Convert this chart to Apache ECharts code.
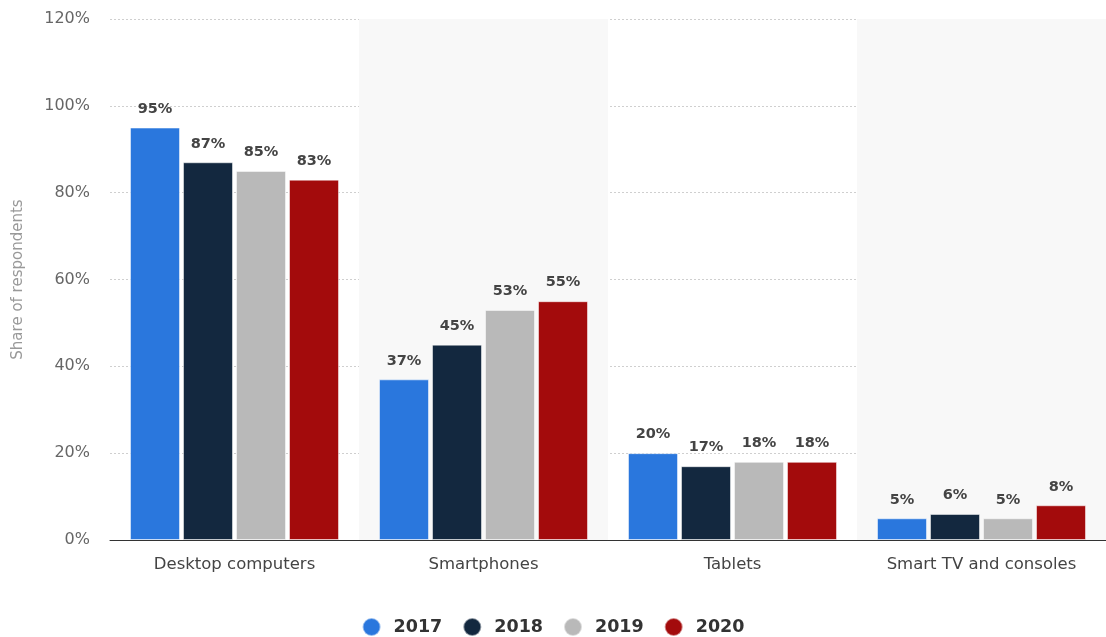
<!DOCTYPE html>
<html><head><meta charset="utf-8">
<script src="https://cdn.jsdelivr.net/npm/echarts@6/dist/echarts.min.js"></script>
<style>html,body{margin:0;padding:0;background:#fff}#c{width:1106px;height:637px}</style>
</head><body><div id="c"></div>
<script>
const categories = ['Desktop computers', 'Smartphones', 'Tablets', 'Smart TV and consoles'];
const years = ['2017', '2018', '2019', '2020'];
const v2017 = [95, 37, 20, 5];
const v2018 = [87, 45, 17, 6];
const v2019 = [85, 53, 18, 5];
const v2020 = [83, 55, 18, 8];
const yTicks = [0, 20, 40, 60, 80, 100, 120];
const colors = ['#2a77dd', '#13283f', '#b9b9b9', '#a30b0c'];
const values = [v2017, v2018, v2019, v2020];
const FONT = 'DejaVu Sans';

const chart = echarts.init(document.getElementById('c'));
chart.setOption({
  animation: false,
  grid: { left: 110, right: 0, top: 19, bottom: 97 },
  legend: {
    top: 612, left: 'center', icon: 'circle', itemWidth: 18, itemHeight: 18, itemGap: 20,
    textStyle: { fontSize: 17.5, color: '#333', fontFamily: FONT, fontWeight: 'bold', padding: [0, 0, 0, 8] },
    data: years
  },
  xAxis: {
    type: 'category', data: categories,
    axisLine: { lineStyle: { color: '#333', width: 1 } },
    axisTick: { show: false },
    axisLabel: { fontSize: 16.5, color: '#444', fontFamily: FONT, margin: 16 },
    splitArea: { show: true, areaStyle: { color: ['rgba(255,255,255,0)', '#f8f8f8'] } }
  },
  yAxis: {
    type: 'value', min: yTicks[0], max: yTicks[yTicks.length - 1], interval: 20,
    name: 'Share of respondents', nameLocation: 'middle', nameGap: 84, nameRotate: 90,
    nameTextStyle: { fontSize: 15, color: '#999', fontFamily: FONT },
    axisLabel: { formatter: '{value}%', fontSize: 16, color: '#666', fontFamily: FONT, margin: 20 },
    axisLine: { show: false }, axisTick: { show: false },
    splitLine: { lineStyle: { type: [2, 2], color: '#cfcfcf' } }
  },
  series: years.map((y, i) => ({
    name: y, type: 'bar', data: values[i], barWidth: 50, barGap: '6%',
    itemStyle: { color: colors[i], borderColor: 'rgba(255,255,255,0.5)', borderWidth: 1 },
    label: { show: true, position: 'top', distance: 11, formatter: '{c}%', fontSize: 14.5, fontWeight: 'bold', color: '#444', fontFamily: FONT }
  }))
});
</script></body></html>
